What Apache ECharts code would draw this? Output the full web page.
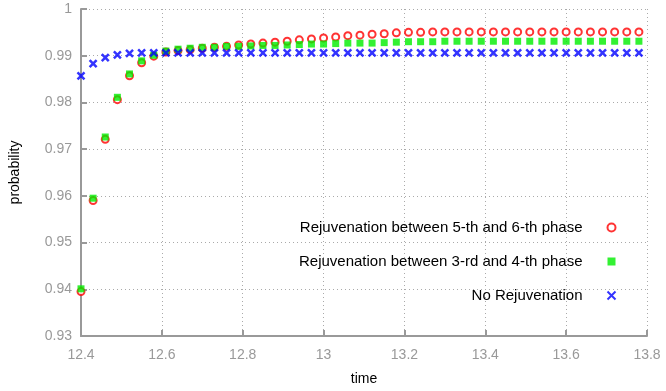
<!DOCTYPE html>
<html>
<head>
<meta charset="utf-8">
<script src="https://cdn.jsdelivr.net/npm/echarts@6/dist/echarts.min.js"></script>
<style>
  html, body { margin: 0; padding: 0; background: #fff; }
  #chart { width: 666px; height: 391px; }
</style>
</head>
<body>
<div id="chart"></div>
<script>
// time axis samples
var times = [12.40, 12.43, 12.46, 12.49, 12.52, 12.55, 12.58, 12.61, 12.64, 12.67,
             12.70, 12.73, 12.76, 12.79, 12.82, 12.85, 12.88, 12.91, 12.94, 12.97,
             13.00, 13.03, 13.06, 13.09, 13.12, 13.15, 13.18, 13.21, 13.24, 13.27,
             13.30, 13.33, 13.36, 13.39, 13.42, 13.45, 13.48, 13.51, 13.54, 13.57,
             13.60, 13.63, 13.66, 13.69, 13.72, 13.75, 13.78];

// Rejuvenation between 5-th and 6-th phase
var rej56 = [0.9395, 0.9590, 0.9721, 0.9806, 0.9857, 0.9885, 0.9899, 0.9908, 0.9911, 0.9913,
             0.9916, 0.9918, 0.9920, 0.9923, 0.9925, 0.9927, 0.9929, 0.9931, 0.9934, 0.9936,
             0.9938, 0.9940, 0.9943, 0.9944, 0.9946, 0.9947, 0.9949, 0.9950, 0.9950, 0.9951,
             0.9951, 0.9951, 0.9951, 0.9951, 0.9951, 0.9951, 0.9951, 0.9951, 0.9951, 0.9951,
             0.9951, 0.9951, 0.9951, 0.9951, 0.9951, 0.9951, 0.9951];

// Rejuvenation between 3-rd and 4-th phase
var rej34 = [0.9401, 0.9595, 0.9726, 0.9811, 0.9861, 0.9889, 0.9901, 0.9910, 0.9914, 0.9916,
             0.9918, 0.9918, 0.9920, 0.9920, 0.9921, 0.9922, 0.9922, 0.9923, 0.9924, 0.9925,
             0.9925, 0.9926, 0.9927, 0.9927, 0.9927, 0.9928, 0.9929, 0.9930, 0.9930, 0.9930,
             0.9931, 0.9931, 0.9931, 0.9931, 0.9931, 0.9931, 0.9931, 0.9931, 0.9931, 0.9931,
             0.9931, 0.9931, 0.9931, 0.9931, 0.9931, 0.9931, 0.9931];

// No Rejuvenation
var noRej = [0.9857, 0.9883, 0.9896, 0.9902, 0.9905, 0.9906, 0.9906, 0.9906, 0.9906, 0.9906,
             0.9906, 0.9906, 0.9906, 0.9906, 0.9906, 0.9906, 0.9906, 0.9906, 0.9906, 0.9906,
             0.9906, 0.9906, 0.9906, 0.9906, 0.9906, 0.9906, 0.9906, 0.9906, 0.9906, 0.9906,
             0.9906, 0.9906, 0.9906, 0.9906, 0.9906, 0.9906, 0.9906, 0.9906, 0.9906, 0.9906,
             0.9906, 0.9906, 0.9906, 0.9906, 0.9906, 0.9906, 0.9906];

var names = ['Rejuvenation between 5-th and 6-th phase',
             'Rejuvenation between 3-rd and 4-th phase',
             'No Rejuvenation'];

function pairs(vals) {
    var out = [];
    for (var i = 0; i < times.length; i++) out.push([times[i], vals[i]]);
    return out;
}

var crossPath = 'path://M0,0L10,10M10,0L0,10';
var font = 'Liberation Sans, Arial, sans-serif';

var chart = echarts.init(document.getElementById('chart'));

var option = {
    animation: false,
    backgroundColor: '#fff',
    grid: { left: 80, right: 19, top: 9, bottom: 50, containLabel: false },
    legend: {
        orient: 'vertical',
        right: 43,
        top: 215,
        align: 'right',
        itemGap: 19,
        itemWidth: 8,
        itemHeight: 8,
        textStyle: { color: '#000', fontSize: 15, fontFamily: font, padding: [0, 20, 0, 0] },
        data: [
            { name: names[0], icon: 'emptyCircle' },
            { name: names[1], icon: 'rect' },
            { name: names[2], icon: crossPath }
        ]
    },
    xAxis: {
        type: 'value',
        min: 12.4,
        max: 13.8,
        interval: 0.2,
        name: 'time',
        nameLocation: 'middle',
        nameGap: 36,
        nameTextStyle: { color: '#000', fontSize: 14, fontFamily: font },
        axisLine: { lineStyle: { color: '#999', width: 2 } },
        axisTick: { inside: true, length: 6, lineStyle: { color: '#999', width: 2 } },
        axisLabel: { color: '#999', fontSize: 14, fontFamily: font, margin: 12 },
        splitLine: { show: true, lineStyle: { color: '#aaa', type: [1, 3], width: 1 } }
    },
    yAxis: {
        type: 'value',
        min: 0.93,
        max: 1,
        interval: 0.01,
        name: 'probability',
        nameLocation: 'middle',
        nameRotate: 90,
        nameGap: 59,
        nameTextStyle: { color: '#000', fontSize: 14, fontFamily: font },
        axisLine: { show: true, lineStyle: { color: '#999', width: 2 } },
        axisTick: { show: true, inside: true, length: 6, lineStyle: { color: '#999', width: 2 } },
        axisLabel: { color: '#999', fontSize: 14, fontFamily: font, margin: 9 },
        splitLine: { show: true, lineStyle: { color: '#aaa', type: [1, 3], width: 1 } }
    },
    series: [
        {
            name: names[0],
            type: 'scatter',
            symbol: 'emptyCircle',
            symbolSize: 7,
            itemStyle: { color: '#ff0000', borderColor: '#ff0000', borderWidth: 2.2 },
            data: pairs(rej56)
        },
        {
            name: names[1],
            type: 'scatter',
            symbol: 'rect',
            symbolSize: 7,
            itemStyle: { color: '#00ee00' },
            data: pairs(rej34)
        },
        {
            name: names[2],
            type: 'scatter',
            symbol: crossPath,
            symbolSize: 7,
            itemStyle: { color: 'none', borderColor: '#0000ff', borderWidth: 2.5 },
            data: pairs(noRej)
        }
    ]
};

chart.setOption(option);
</script>
</body>
</html>
